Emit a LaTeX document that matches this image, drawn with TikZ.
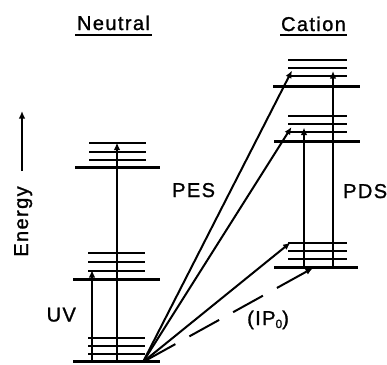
\documentclass[tikz,border=0pt]{standalone}
\usepackage{fontspec}
\setmainfont{Liberation Sans}
\usetikzlibrary{arrows.meta}
\begin{document}
\begin{tikzpicture}[x=1pt,y=-1pt,
  lbl/.style={inner sep=0pt,font=\fontsize{20}{23}\selectfont\addfontfeature{LetterSpace=7,FakeBold=1.2}},
  short/.style={line width=2pt},
  baseln/.style={line width=3pt},
  trans/.style={line width=2pt,-{Latex[length=7.5pt,width=6.5pt]}},
  uline/.style={line width=2pt}]
\useasboundingbox (0,0) rectangle (387,364);
% headings
\node[lbl,anchor=base] (neutral) at (113.5,30) {Neutral};
\node[lbl,anchor=base] (cation) at (313.5,31) {Cation};
\draw[uline] (75,35) -- (152,35);
\draw[uline] (280,35) -- (347,35);
% energy axis
\node[lbl,anchor=base,rotate=90] (energy) at (28,221.5) {Energy};
\coordinate (eA) at (22,171);
\coordinate (eB) at (22,111);
\draw[trans] (eA) -- (eB);
% neutral manifolds
\foreach \y in {338,346,354} \draw[short] (88,\y) -- (145,\y);
\draw[baseln] (73,361.5) -- (160,361.5);
\foreach \y in {253,262,271} \draw[short] (88,\y) -- (145,\y);
\draw[baseln] (73,279.5) -- (160,279.5);
\foreach \y in {143,152,160} \draw[short] (89,\y) -- (146,\y);
\draw[baseln] (75,167.5) -- (160,167.5);
% cation manifolds
\foreach \y in {60,68,76} \draw[short] (288,\y) -- (347,\y);
\draw[baseln] (273,86.5) -- (360,86.5);
\foreach \y in {116,124,132} \draw[short] (288,\y) -- (347,\y);
\draw[baseln] (274,141.5) -- (360,141.5);
\foreach \y in {243,251,259} \draw[short] (288,\y) -- (347,\y);
\draw[baseln] (274,267.5) -- (358,267.5);
% transition end points
\coordinate (g0) at (143,362);
\coordinate (uvA) at (92,362);
\coordinate (uvB) at (92,270);
\coordinate (nA) at (117,362);
\coordinate (nB) at (117,142.5);
\coordinate (c2) at (292,70.5);
\coordinate (c1) at (291.5,127);
\coordinate (c0) at (290.5,242.5);
\coordinate (ip) at (313,268);
\coordinate (pdA) at (333,267);
\coordinate (pdB) at (333,71);
\coordinate (pcA) at (304,267);
\coordinate (pcB) at (304,127.5);
% transitions
\draw[trans] (uvA) -- (uvB);
\draw[trans] (nA) -- (nB);
\draw[trans] (g0) -- (c2);
\draw[trans] (g0) -- (c1);
\draw[trans] (g0) -- (c0);
\draw[trans,dash pattern=on 34pt off 16pt,dash phase=-3pt] (g0) -- (ip);
\draw[trans] (pdA) -- (pdB);
\draw[trans] (pcA) -- (pcB);
% labels
\node[lbl,anchor=base west] (pes) at (172,197) {PES};
\node[lbl,anchor=base west] (pds) at (343,198) {PDS};
\node[lbl,anchor=base west] (uv) at (46.5,321.5) {UV};
\node[lbl,anchor=base west] (ipo) at (247,325) {(IP\raisebox{-3pt}{\fontsize{12}{14}\selectfont 0})};
\end{tikzpicture}
\end{document}
